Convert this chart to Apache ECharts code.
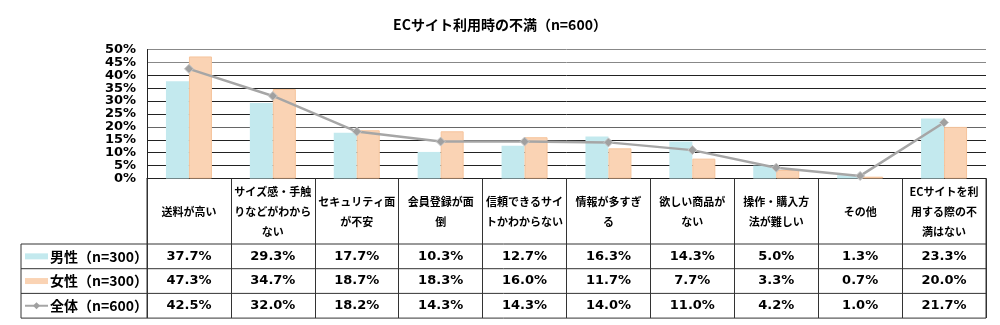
<!DOCTYPE html>
<html><head><meta charset="utf-8">
<script src="https://cdn.jsdelivr.net/npm/echarts@6/dist/echarts.min.js"></script>
<style>html,body{margin:0;padding:0;background:#fff}#c{width:1000px;height:325px}</style>
</head><body><div id="c"></div>
<script>
const title = 'ECサイト利用時の不満（n=600）';
const categories = ['送料が高い','サイズ感・手触りなどがわからない','セキュリティ面が不安','会員登録が面倒','信頼できるサイトかわからない','情報が多すぎる','欲しい商品がない','操作・購入方法が難しい','その他','ECサイトを利用する際の不満はない'];
const categoryLabels = ['送料が高い','サイズ感・手触\nりなどがわから\nない','セキュリティ面\nが不安','会員登録が面\n倒','信頼できるサイ\nトかわからない','情報が多すぎ\nる','欲しい商品が\nない','操作・購入方\n法が難しい','その他','ECサイトを利\n用する際の不\n満はない'];
const seriesNames = ['男性（n=300）','女性（n=300）','全体（n=600）'];
const male = [37.7,29.3,17.7,10.3,12.7,16.3,14.3,5.0,1.3,23.3];
const female = [47.3,34.7,18.7,18.3,16.0,11.7,7.7,3.3,0.7,20.0];
const total = [42.5,32.0,18.2,14.3,14.3,14.0,11.0,4.2,1.0,21.7];

const colors = ['#C3E9EE','#FAD3B4','#A6A6A6'];
const FONT = "'DejaVu Sans','Noto Sans CJK JP',sans-serif";
const CJK = "'Noto Sans CJK JP',sans-serif";
const G = {left:147, right:14, top:49.5, bottom:146.5};
const W = 1000, H = 325;
const axisY = H - G.bottom;
const headerBottom = 244;
const rowH = 24.7;
const tableLeft = 21;
const tableRight = W - G.right;

const chart = echarts.init(document.getElementById('c'), null, {renderer:'canvas'});
chart.setOption({
  animation:false,
  backgroundColor:'#fff',
  title:{text:title,left:'center',top:13,textStyle:{fontFamily:CJK,fontSize:14,fontWeight:'bold',color:'#000'}},
  grid:G,
  xAxis:{type:'category',data:categories,
    axisLine:{show:true,lineStyle:{color:'#222',width:1}},
    axisTick:{show:true,interval:0,length:318-axisY,lineStyle:{color:'#333',width:1}},
    axisLabel:{interval:0,margin:33,verticalAlign:'middle',lineHeight:20,fontFamily:CJK,fontSize:11,fontWeight:'bold',color:'#000',
      formatter:(v,i)=>categoryLabels[i]}},
  yAxis:{type:'value',min:0,max:50,interval:5,
    axisLine:{show:true,lineStyle:{color:'#222'}},
    axisTick:{show:false},
    axisLabel:{formatter:'{value}%',fontFamily:FONT,fontSize:13,fontWeight:'bold',color:'#000',margin:11},
    splitLine:{show:true,lineStyle:{color:['#222','#222','#222','#222','#666','#222','#222','#222','#222','#888','#888'],width:1}}},
  series:[
    {name:seriesNames[0],type:'bar',data:male,barWidth:23,barGap:'0%',itemStyle:{color:colors[0]}},
    {name:seriesNames[1],type:'bar',data:female,barWidth:23,itemStyle:{color:colors[1],borderColor:'#F6C49C',borderWidth:1}},
    {name:seriesNames[2],type:'line',data:total,symbol:'diamond',symbolSize:9,
      lineStyle:{color:colors[2],width:2.5},itemStyle:{color:'#A0A0A0',borderColor:'#C8C8C8',borderWidth:1},z:5}
  ]
});

const g = [];
const lineStyle = {stroke:'#333',lineWidth:1};
for (let r = 0; r <= 3; r++) {
  const y = headerBottom + r*rowH;
  g.push({type:'line',shape:{x1:tableLeft,y1:y,x2:tableRight,y2:y},style:lineStyle,silent:true});
}
g.push({type:'line',shape:{x1:tableLeft,y1:headerBottom,x2:tableLeft,y2:headerBottom+3*rowH},style:lineStyle});
g.push({type:'line',shape:{x1:G.left,y1:axisY,x2:G.left,y2:headerBottom+3*rowH},style:lineStyle});
g.push({type:'line',shape:{x1:tableRight,y1:axisY,x2:tableRight,y2:headerBottom+3*rowH},style:lineStyle});
const rows = [male,female,total];
rows.forEach((arr,r)=>{
  const yc = headerBottom + (r+0.5)*rowH;
  arr.forEach((v,i)=>{
    const x = chart.convertToPixel({xAxisIndex:0}, i);
    g.push({type:'text',x:x,y:yc,style:{text:v.toFixed(1)+'%',align:'center',verticalAlign:'middle',font:'bold 13px '+FONT,fill:'#000'}});
  });
  g.push({type:'text',x:50,y:yc,style:{text:seriesNames[r],align:'left',verticalAlign:'middle',font:'bold 14px '+CJK,fill:'#000'}});
});
g.push({type:'rect',shape:{x:25,y:headerBottom+0.5*rowH-3,width:23,height:6},style:{fill:colors[0]}});
g.push({type:'rect',shape:{x:25,y:headerBottom+1.5*rowH-3,width:23,height:6},style:{fill:colors[1]}});
const ly = headerBottom+2.5*rowH;
g.push({type:'line',shape:{x1:25,y1:ly,x2:48,y2:ly},style:{stroke:colors[2],lineWidth:2}});
g.push({type:'polygon',shape:{points:[[36.5,ly-3.5],[40,ly],[36.5,ly+3.5],[33,ly]]},style:{fill:'#A0A0A0'}});
chart.setOption({graphic:g});
</script></body></html>
